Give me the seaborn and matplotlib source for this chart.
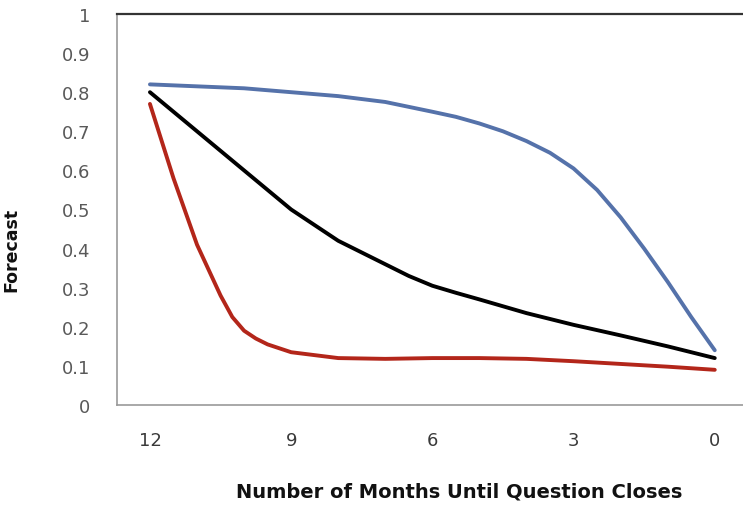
import matplotlib
matplotlib.use("Agg")
import matplotlib.pyplot as plt
import pandas as pd
import seaborn as sns

# months until the question closes (x axis runs 12 -> 0)
black_months = [12, 11, 10, 9, 8, 7, 6.5, 6, 5.5, 5, 4, 3, 2, 1, 0]
black_vals = [0.80, 0.70, 0.60, 0.50, 0.42, 0.36, 0.33, 0.305, 0.287, 0.27, 0.235,
              0.205, 0.178, 0.15, 0.12]

# blue bends late, read at half months near the end
blue_months = [12, 11, 10, 9, 8, 7, 6, 5.5, 5, 4.5, 4, 3.5, 3, 2.5, 2, 1.5, 1, 0.5, 0]
blue_vals = [0.82, 0.815, 0.81, 0.80, 0.79, 0.775, 0.75, 0.737, 0.72, 0.70, 0.675,
             0.645, 0.605, 0.55, 0.48, 0.40, 0.315, 0.225, 0.14]

# red drops fast, read at finer steps near the start
red_months = [12, 11.5, 11, 10.5, 10.25, 10, 9.75, 9.5, 9, 8, 7, 6, 5, 4, 3, 2, 1, 0]
red_vals = [0.77, 0.58, 0.41, 0.28, 0.225, 0.19, 0.17, 0.155, 0.135, 0.12, 0.118,
            0.12, 0.12, 0.118, 0.112, 0.105, 0.098, 0.09]

x_ticks = [12, 9, 6, 3, 0]
y_ticks = [0, 0.1, 0.2, 0.3, 0.4, 0.5, 0.6, 0.7, 0.8, 0.9, 1]

colors = {"blue": "#5572aa", "black": "#000000", "red": "#b3261a"}

df = pd.concat([
    pd.DataFrame({"month": blue_months, "forecast": blue_vals, "series": "blue"}),
    pd.DataFrame({"month": black_months, "forecast": black_vals, "series": "black"}),
    pd.DataFrame({"month": red_months, "forecast": red_vals, "series": "red"}),
])

sns.set_style("white")
plt.rcParams["font.family"] = ["DejaVu Sans"]

fig = plt.figure(figsize=(7.43, 5.06), dpi=100)
ax = fig.add_axes([117 / 743, 1 - 406 / 506, 626 / 743, 391 / 506])

sns.lineplot(data=df, x="month", y="forecast", hue="series", palette=colors,
             hue_order=["blue", "black", "red"], linewidth=2.8, ax=ax,
             legend=False, sort=False)
for line in ax.lines:
    line.set_solid_joinstyle("round")
    line.set_solid_capstyle("round")

ax.set_xlim(12.7, -0.6)
ax.set_ylim(0, 1)
ax.set_xticks(x_ticks)
ax.set_xticklabels([str(t) for t in x_ticks])
ax.set_yticks(y_ticks)
ax.set_yticklabels(["%g" % t for t in y_ticks])

ax.tick_params(axis="y", direction="in", length=7, width=1, color="#999999",
               pad=19, labelsize=13, labelcolor="#595959")
ax.tick_params(axis="x", length=0, pad=19, labelsize=13, labelcolor="#3a3a3a")

for side in ["left", "bottom"]:
    ax.spines[side].set_color("#999999")
    ax.spines[side].set_linewidth(1.2)
ax.spines["right"].set_visible(False)
ax.spines["top"].set_color("#333333")
ax.spines["top"].set_linewidth(1.6)

ax.set_xlabel("Number of Months Until Question Closes", fontsize=14, fontweight="bold", color="#111111")
ax.set_ylabel("Forecast", fontsize=12.5, fontweight="bold", color="#111111")
ax.xaxis.set_label_coords(0.546, -0.195)
ax.yaxis.set_label_coords(-0.155, 0.40)

fig.savefig("out.png", dpi=100)
